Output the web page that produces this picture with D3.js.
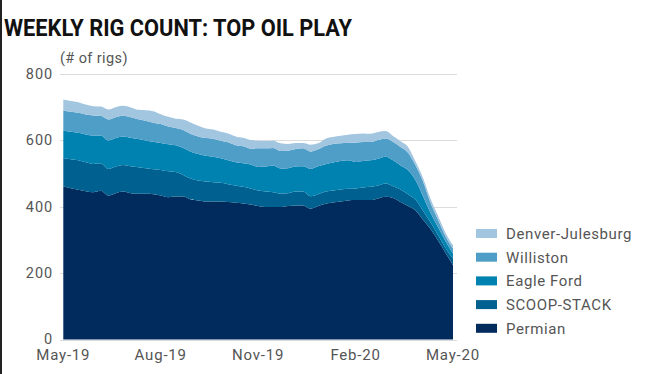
<!DOCTYPE html>
<html>
<head>
<meta charset="utf-8">
<script src="https://cdn.jsdelivr.net/npm/d3@7"></script>
<style>
  html, body { margin: 0; padding: 0; background: #fff; }
  svg { display: block; }
  text { font-family: Roboto, "Liberation Sans", sans-serif; }
</style>
</head>
<body>
<div id="chart"></div>
<script>
// weekly rig counts, May-19 .. May-20 (53 weeks)
var permian = [461,456,451,447,444,448,434,441,446,441,439,439,438,434,429,431,431,422,419,416,416,416,414,412,410,407,
  402,399,399,399,402,404,404,394,402,409,413,416,419,420,420,420,425,430,426,414,402,389,361,333,298,261,224];
var scoopStack = [86,87,89,87,85,83,80,80,80,81,80,77,75,77,78,74,65,63,60,60,58,56,54,52,50,48,
  47,47,45,41,39,42,42,38,36,37,36,36,35,35,38,40,39,40,36,38,36,32,27,20,17,15,20];
var eagleFord = [83,83,83,84,86,84,86,86,86,86,85,84,83,81,81,80,81,81,80,78,77,74,72,70,71,72,
  71,75,80,75,75,75,76,82,84,82,84,86,86,80,80,80,81,81,78,72,72,59,44,29,23,20,15];
var williston = [60,60,60,60,60,59,63,63,62,62,60,59,57,57,54,52,54,53,53,53,54,53,54,51,51,48,
  56,55,53,53,53,53,54,52,51,56,56,53,53,58,57,55,56,55,56,56,53,45,44,30,23,15,15];
var denverJulesburg = [33,33,32,30,28,28,30,30,30,29,28,32,35,30,29,28,32,35,32,29,28,27,27,27,26,26,
  23,22,22,23,20,18,16,21,18,21,21,23,24,26,26,25,24,22,17,17,17,11,11,12,12,11,10];

var seriesNames = ["Permian", "SCOOP-STACK", "Eagle Ford", "Williston", "Denver-Julesburg"];
var seriesColors = ["#002b5c", "#00608f", "#0082b1", "#4f9ec8", "#a2c5e0"];
var yTicks = [0, 200, 400, 600, 800];
var xTickIndex = [0, 13, 26, 39, 52];
var xTickLabels = ["May-19", "Aug-19", "Nov-19", "Feb-20", "May-20"];

var width = 662, height = 374;
var margin = {left: 63.3, right: 209, top: 74, bottom: 34.5};

var svg = d3.select("#chart").append("svg")
    .attr("width", width)
    .attr("height", height);

// left frame edge
svg.append("rect").attr("x", 0).attr("y", 0).attr("width", 2).attr("height", height).attr("fill", "#222");

svg.append("text")
    .attr("x", 4).attr("y", 36)
    .attr("font-size", 23).attr("font-weight", "bold")
    .attr("fill", "#111")
    .attr("textLength", 348).attr("lengthAdjust", "spacingAndGlyphs")
    .text("WEEKLY RIG COUNT: TOP OIL PLAY");

svg.append("text")
    .attr("x", 60).attr("y", 63)
    .attr("font-size", 14.5).attr("fill", "#555").attr("letter-spacing", 0.4)
    .text("(# of rigs)");

var rows = permian.map(function (p, i) {
    return {i: i, "Permian": p, "SCOOP-STACK": scoopStack[i], "Eagle Ford": eagleFord[i],
        "Williston": williston[i], "Denver-Julesburg": denverJulesburg[i]};
});

var x = d3.scaleLinear().domain([0, permian.length - 1]).range([margin.left, width - margin.right]);
var y = d3.scaleLinear().domain([0, 800]).range([height - margin.bottom, margin.top]);

// gridlines
svg.append("g").selectAll("line")
    .data(yTicks).enter().append("line")
    .attr("x1", 60).attr("x2", 457)
    .attr("y1", function (d) { return Math.round(y(d)) + 0.5; })
    .attr("y2", function (d) { return Math.round(y(d)) + 0.5; })
    .attr("stroke", "#dcdcdc").attr("stroke-width", 1);

var stacked = d3.stack().keys(seriesNames)(rows);

var area = d3.area()
    .x(function (d) { return x(d.data.i); })
    .y0(function (d) { return y(d[0]); })
    .y1(function (d) { return y(d[1]); })
    .curve(d3.curveMonotoneX);

svg.append("g").selectAll("path")
    .data(stacked).enter().append("path")
    .attr("d", area)
    .attr("fill", function (d, k) { return seriesColors[k]; });

// y tick labels
svg.append("g").selectAll("text")
    .data(yTicks).enter().append("text")
    .attr("x", 53).attr("y", function (d) { return y(d); })
    .attr("dy", "0.34em")
    .attr("text-anchor", "end")
    .attr("font-size", 14.5).attr("fill", "#555").attr("letter-spacing", 0.9)
    .text(function (d) { return d; });

// x tick labels
svg.append("g").selectAll("text")
    .data(xTickIndex).enter().append("text")
    .attr("x", function (d) { return x(d); }).attr("y", 360)
    .attr("text-anchor", "middle")
    .attr("font-size", 15).attr("fill", "#555").attr("letter-spacing", 0.8)
    .text(function (d, k) { return xTickLabels[k]; });

// legend, top to bottom = reversed stack
var legend = svg.append("g").selectAll("g")
    .data(seriesNames.slice().reverse()).enter().append("g")
    .attr("transform", function (d, k) { return "translate(476," + (233.5 + k * 23.7) + ")"; });

legend.append("rect")
    .attr("x", 0).attr("y", -4.5).attr("width", 21).attr("height", 9)
    .attr("fill", function (d) { return seriesColors[seriesNames.indexOf(d)]; });

legend.append("text")
    .attr("x", 30).attr("y", 0).attr("dy", "0.36em")
    .attr("font-size", 15).attr("fill", "#555").attr("letter-spacing", 0.6)
    .text(function (d) { return d; });
</script>
</body>
</html>
